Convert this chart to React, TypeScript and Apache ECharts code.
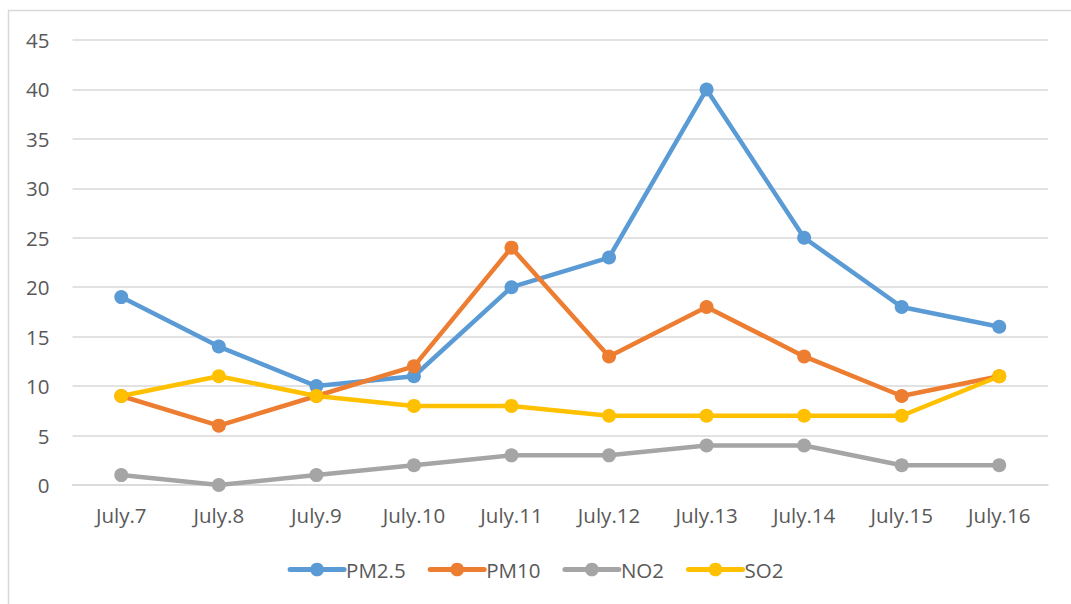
import React, { useEffect, useRef } from "react";
import * as echarts from "echarts";

const categories = ["July.7", "July.8", "July.9", "July.10", "July.11", "July.12", "July.13", "July.14", "July.15", "July.16"];
const pm25 = [19, 14, 10, 11, 20, 23, 40, 25, 18, 16];
const pm10 = [9, 6, 9, 12, 24, 13, 18, 13, 9, 11];
const no2 = [1, 0, 1, 2, 3, 3, 4, 4, 2, 2];
const so2 = [9, 11, 9, 8, 8, 7, 7, 7, 7, 11];

const FONT = "'Open Sans', sans-serif";
const TEXT = "#595959";
const FS = 20.5;

export default function App() {
  const ref = useRef<HTMLDivElement>(null);
  useEffect(() => {
    if (!ref.current) return;
    const chart = echarts.init(ref.current, undefined, { renderer: "svg" });
    const mk = (name: string, data: number[], color: string) => ({
      name,
      type: "line",
      data,
      symbol: "circle",
      symbolSize: 14,
      itemStyle: { color },
      lineStyle: { color, width: 4.5, cap: "round", join: "round" },
      z: 2,
    });
    chart.setOption({
      animation: false,
      backgroundColor: "#fff",
      textStyle: { fontFamily: FONT },
      graphic: [
        {
          type: "rect",
          shape: { x: 8.5, y: 10.5, width: 1080, height: 610 },
          style: { fill: "none", stroke: "#D9D9D9", lineWidth: 1.5 },
          silent: true,
        },
      ],
      grid: { left: 72.5, right: 23, top: 40, bottom: 119 },
      xAxis: {
        type: "category",
        data: categories,
        boundaryGap: true,
        axisLine: { show: true, lineStyle: { color: "#D9D9D9", width: 1.5 } },
        axisTick: { show: false },
        axisLabel: { color: TEXT, fontSize: FS, fontFamily: FONT, margin: 19 },
      },
      yAxis: {
        type: "value",
        min: 0,
        max: 45,
        interval: 5,
        axisLine: { show: false },
        axisTick: { show: false },
        splitLine: { lineStyle: { color: "#D9D9D9", width: 1.5 } },
        axisLabel: { color: TEXT, fontSize: FS, fontFamily: FONT, margin: 23 },
      },
      legend: {
        bottom: 19,
        left: "center",
        itemWidth: 54,
        itemHeight: 17,
        itemGap: 22,
        lineStyle: { width: 5, cap: "round" },
        textStyle: { color: TEXT, fontSize: FS, fontFamily: FONT, padding: [0, 0, 0, -3] },
        data: ["PM2.5", "PM10", "NO2", "SO2"],
      },
      series: [
        mk("PM2.5", pm25, "#5B9BD5"),
        mk("PM10", pm10, "#ED7D31"),
        mk("NO2", no2, "#A5A5A5"),
        mk("SO2", so2, "#FFC000"),
      ],
    });
    return () => chart.dispose();
  }, []);
  return <div ref={ref} style={{ position: "absolute", left: 0, top: 0, width: 1071, height: 604 }} />;
}
